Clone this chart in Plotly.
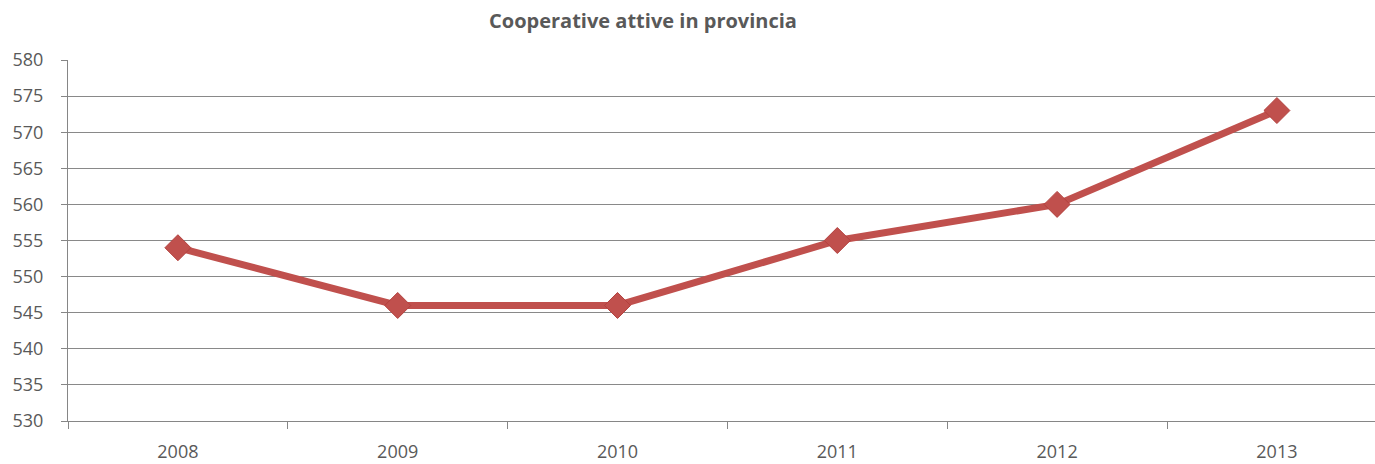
import plotly.graph_objects as go

years = ["2008", "2009", "2010", "2011", "2012", "2013"]
values = [554, 546, 546, 555, 560, 573]
y_ticks = [530, 535, 540, 545, 550, 555, 560, 565, 570, 575, 580]

W, H = 1375, 464
L, R, T, B = 68, 0, 60, 43
plot_w = W - L - R
band = 219.8
x_right = -0.5 + plot_w / band

fig = go.Figure()
fig.add_trace(go.Scatter(
    x=years, y=values, mode="lines+markers",
    line=dict(color="#C0504D", width=7),
    marker=dict(symbol="diamond", size=20, color="#C0504D",
                line=dict(color="#B3413E", width=1)),
    showlegend=False, hoverinfo="x+y",
))

fig.update_layout(
    width=W, height=H,
    margin=dict(l=L, r=R, t=T, b=B),
    paper_bgcolor="white", plot_bgcolor="white",
    font=dict(family="Open Sans, Noto Sans, sans-serif", color="#595959", size=18),
    title=dict(text="<b>Cooperative attive in provincia</b>", x=643 / W, xanchor="center",
               xref="container", y=1 - 21 / H, yref="container", yanchor="middle",
               font=dict(size=20, color="#595959", family="Open Sans, sans-serif")),
    xaxis=dict(type="category", range=[-0.5, x_right], tickson="boundaries",
               ticks="outside", ticklen=7, tickcolor="#868686", tickwidth=1,
               showgrid=False, showline=True, linecolor="#868686", linewidth=1,
               ticklabelstandoff=14, tickfont=dict(size=18, color="#595959"),
               zeroline=False, fixedrange=True),
    yaxis=dict(range=[530, 580], tickvals=y_ticks, ticks="outside", ticklen=6,
               tickcolor="#868686", showgrid=True, gridcolor="#898989", gridwidth=1,
               showline=True, linecolor="#868686", linewidth=1, zeroline=False,
               ticklabelstandoff=14, tickfont=dict(size=18, color="#595959"),
               fixedrange=True),
)

fig.write_html("out.html", config={"displayModeBar": False},
               post_script="document.body.style.margin='0';document.body.style.overflow='hidden';")
